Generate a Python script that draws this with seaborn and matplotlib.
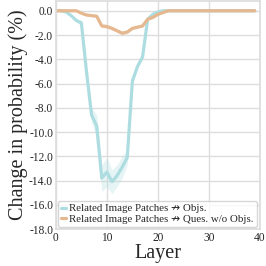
import numpy as np
import pandas as pd
import matplotlib
matplotlib.use("Agg")
import matplotlib.pyplot as plt
import seaborn as sns

# values (mean change in probability, %)
layers = list(range(40))
objs = [0.0, 0.0, -0.1, -0.4, -0.8, -1.0, -5.0, -8.6, -9.5, -13.8,
        -13.3, -14.1, -13.6, -12.9, -12.1, -5.8, -4.6, -3.8, -0.7, -0.3,
        -0.1] + [0.0] * 19
objs_ci = [0.05, 0.05, 0.1, 0.1, 0.15, 0.2, 0.4, 0.6, 0.9, 1.1,
           1.2, 1.0, 0.9, 0.9, 0.6, 0.3, 0.2, 0.2, 0.1, 0.05,
           0.05] + [0.0] * 19
ques = [0.0, 0.0, 0.0, 0.0, 0.0, -0.2, -0.35, -0.4, -0.45, -1.25,
        -1.3, -1.45, -1.65, -1.85, -1.75, -1.45, -1.35, -1.25, -0.7, -0.55,
        -0.3, -0.15] + [0.0] * 18
ques_ci = [0.0] * 5 + [0.05, 0.08, 0.08, 0.1, 0.15, 0.15, 0.15, 0.15, 0.15,
                       0.15, 0.12, 0.1, 0.1, 0.08, 0.06, 0.05, 0.03] + [0.0] * 18

label_objs = "Related Image Patches \u219b Objs."
label_ques = "Related Image Patches \u219b Ques. w/o Objs."
colors = {label_objs: "#addde1", label_ques: "#e5b88f"}

df = pd.DataFrame({
    "Layer": layers * 2,
    "change": objs + ques,
    "series": [label_objs] * 40 + [label_ques] * 40,
})

sns.set_theme(style="whitegrid")
plt.rcParams["font.family"] = ["Liberation Serif", "DejaVu Sans"]
plt.rcParams["axes.edgecolor"] = "#dddddd"
plt.rcParams["grid.color"] = "#dddddd"

fig, ax = plt.subplots(figsize=(2.66, 2.66), dpi=100)
fig.subplots_adjust(left=0.21, right=0.977, top=0.996, bottom=0.139)

sns.lineplot(data=df, x="Layer", y="change", hue="series", palette=colors,
             linewidth=2.3, errorbar=None, ax=ax)

# confidence bands
for vals, ci, lab in [(objs, objs_ci, label_objs), (ques, ques_ci, label_ques)]:
    v = np.array(vals)
    c = np.array(ci)
    ax.fill_between(layers, v - c, v + c, color=colors[lab], alpha=0.3, linewidth=0)

ax.set_xlim(0, 40)
ax.set_ylim(-18, 0.8)
ax.set_xticks([0, 10, 20, 30, 40])
ax.set_yticks(np.arange(-18, 0.1, 2))
ax.set_yticklabels([f"{t:.1f}" for t in np.arange(-18, 0.1, 2)])
ax.tick_params(axis="both", labelsize=8.3, length=0, pad=2)
ax.set_xlabel("Layer", fontsize=14.5, labelpad=0)
ax.set_ylabel("Change in probability (%)", fontsize=14.5, labelpad=1)

ax.legend(loc="lower left", fontsize=7.8, handlelength=0.5, handletextpad=0.3,
          borderpad=0.25, labelspacing=0.1, borderaxespad=0.2, frameon=True)

plt.savefig("out.png", dpi=100)
